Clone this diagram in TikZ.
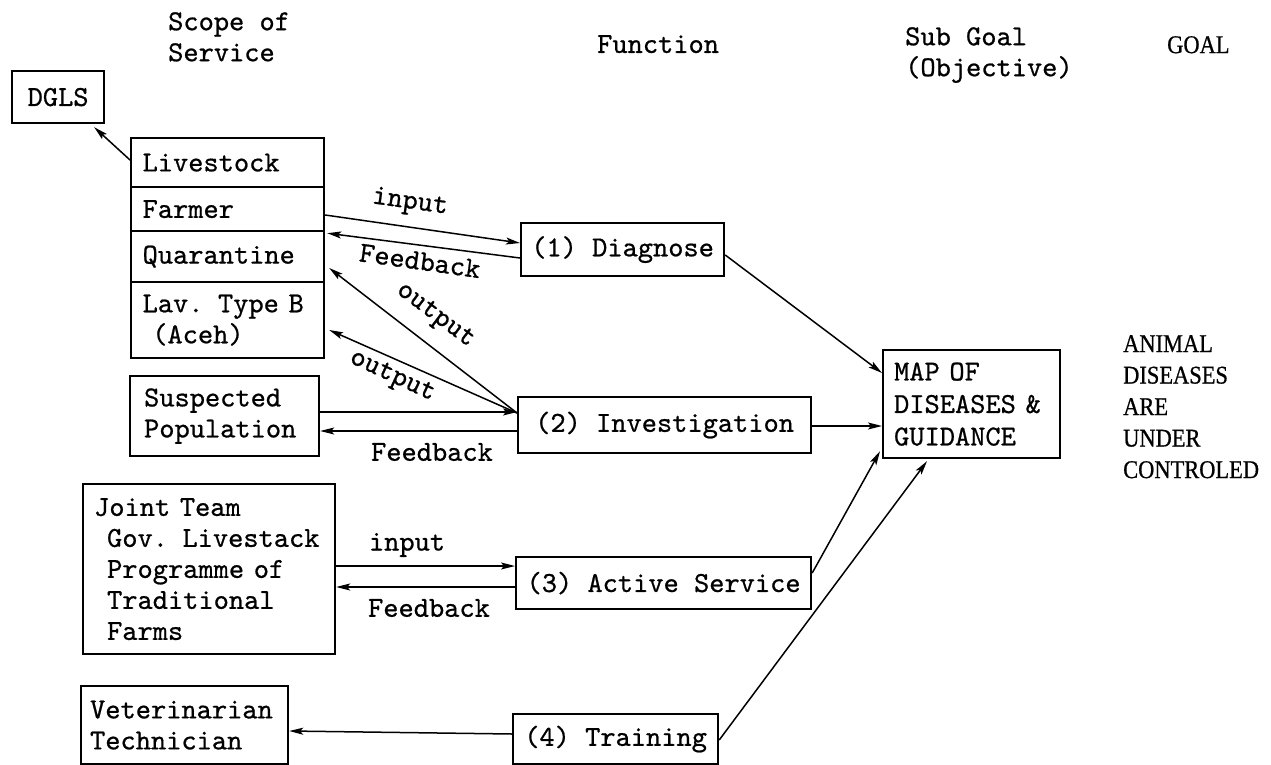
\documentclass[tikz,border=0pt]{standalone}
\usepackage{fontspec}
\newfontfamily\tw[FakeBold=0.7]{lmmono10-regular.otf}
\newfontfamily\gf[FakeStretch=0.88,FakeBold=0.7]{Liberation Serif}
\usetikzlibrary{arrows.meta,calc}
\begin{document}
\begin{tikzpicture}[x=1pt,y=-1pt,
  every node/.style={font=\tw\fontsize{29}{31}\selectfont},
  box/.style={draw, line width=2.2pt, inner ysep=0pt, align=left, anchor=north west},
  lbl/.style={inner sep=0pt},
  head/.style={inner sep=0pt, anchor=north west, align=left},
  goalfont/.style={font=\gf\fontsize{25.5}{31.5}\selectfont},
  arr/.style={line width=1.5pt, -{Stealth[length=14pt,width=7pt,inset=3pt]}}]
\useasboundingbox (0,0) rectangle (1271,765);

% headers
\node[head] (h1) at (168,12) {Scope of\\Service};
\node[head] (h2) at (597,35) {Function};
\node[head] (h3) at (905,27) {Sub Goal\\(Objective)};
\node[head, goalfont] (h4) at (1167,36) {GOAL};
\node[head, goalfont] (h5) at (1123,335) {ANIMAL\\DISEASES\\ARE\\UNDER\\CONTROLED};

% scope of service
\node[box, minimum width=92pt, minimum height=52pt] (dgls) at (11,70) {DGLS};
\node[box, inner xsep=11.5pt, text width=170pt, minimum height=49pt] (live) at (130,137) {Livestock};
\node[box, inner xsep=11.5pt, text width=170pt, minimum height=44pt] (farm) at (130,186) {Farmer};
\node[box, inner xsep=11.5pt, text width=170pt, minimum height=51pt] (quar) at (130,230) {Quarantine};
\node[box, inner xsep=11.5pt, text width=170pt, minimum height=76pt] (lav) at (130,281) {Lav. Type B\\~(Aceh)};
\node[box, inner xsep=14pt, text width=161pt, minimum height=80pt] (susp) at (129,375) {Suspected\\Population};
\node[box, inner xsep=11pt, text width=230pt, minimum height=170pt] (joint) at (82,483)
  {Joint Team\\\hspace*{13pt}Gov. Livestack\\\hspace*{13pt}Programme of\\\hspace*{13pt}Traditional\\\hspace*{13pt}Farms};
\node[box, inner xsep=9pt, text width=189pt, minimum height=78pt] (vet) at (80,685) {Veterinarian\\Technician};

% functions
\node[box, minimum width=203pt, minimum height=53pt] (diag) at (520,222) {(1) Diagnose};
\node[box, minimum width=293pt, minimum height=56pt] (inv) at (517,396) {(2) Investigation};
\node[box, minimum width=295pt, minimum height=52pt] (act) at (515,556) {(3) Active Service};
\node[box, minimum width=205pt, minimum height=50pt] (train) at (512,713) {(4) Training};

% sub goal
\node[box, inner xsep=11pt, text width=155pt, minimum height=108pt] (map) at (882,349)
  {MAP OF\\[1.5pt]DISEASES \&\\[1.5pt]GUIDANCE};

% connectors
\draw[arr] ($(live.north west)+(0,23)$) -- ($(dgls.south east)+(-11,3)$);
\draw[arr] ($(farm.north east)+(0,29)$) -- ($(diag.north west)+(0,21)$);
\draw[arr] ($(diag.north west)+(0,36)$) -- ($(farm.south east)+(2,1)$);
\draw[arr] ($(inv.north west)+(0,17)$) -- ($(quar.north east)+(4,38)$);
\draw[arr] ($(inv.north west)+(0,17)$) -- ($(lav.north east)+(4,49)$);
\draw[arr] ($(susp.north east)+(0,37)$) -- ($(inv.north west)+(0,16)$);
\draw[arr] ($(inv.north west)+(0,35)$) -- ($(susp.north east)+(0,56)$);
\draw[arr] ($(joint.north east)+(0,83)$) -- ($(act.north west)+(0,10)$);
\draw[arr] ($(act.north west)+(0,31)$) -- ($(joint.north east)+(0,104)$);
\draw[arr] ($(train.north west)+(0,21)$) -- ($(vet.north east)+(0,46)$);
\draw[arr] ($(diag.north east)+(0,33)$) -- ($(map.north west)+(0,24)$);
\draw[arr] ($(inv.north east)+(0,30)$) -- ($(map.north west)+(0,77)$);
\draw[arr] ($(act.north east)+(0,17)$) -- ($(map.south west)+(-2,-8)$);
\draw[arr] ($(train.north east)+(0,27)$) -- ($(map.south west)+(45,2)$);

% connector labels
\node[lbl, rotate=-8] (l1) at (410,203) {input};
\node[lbl, rotate=-8] (l2) at (420,261) {Feedback};
\node[lbl, rotate=-37] (l3) at (435,316) {output};
\node[lbl, rotate=-25] (l4) at (392,377) {output};
\node[lbl] (l5) at (432,452) {Feedback};
\node[lbl] (l6) at (407,545) {input};
\node[lbl] (l7) at (429,608) {Feedback};
\end{tikzpicture}
\end{document}
